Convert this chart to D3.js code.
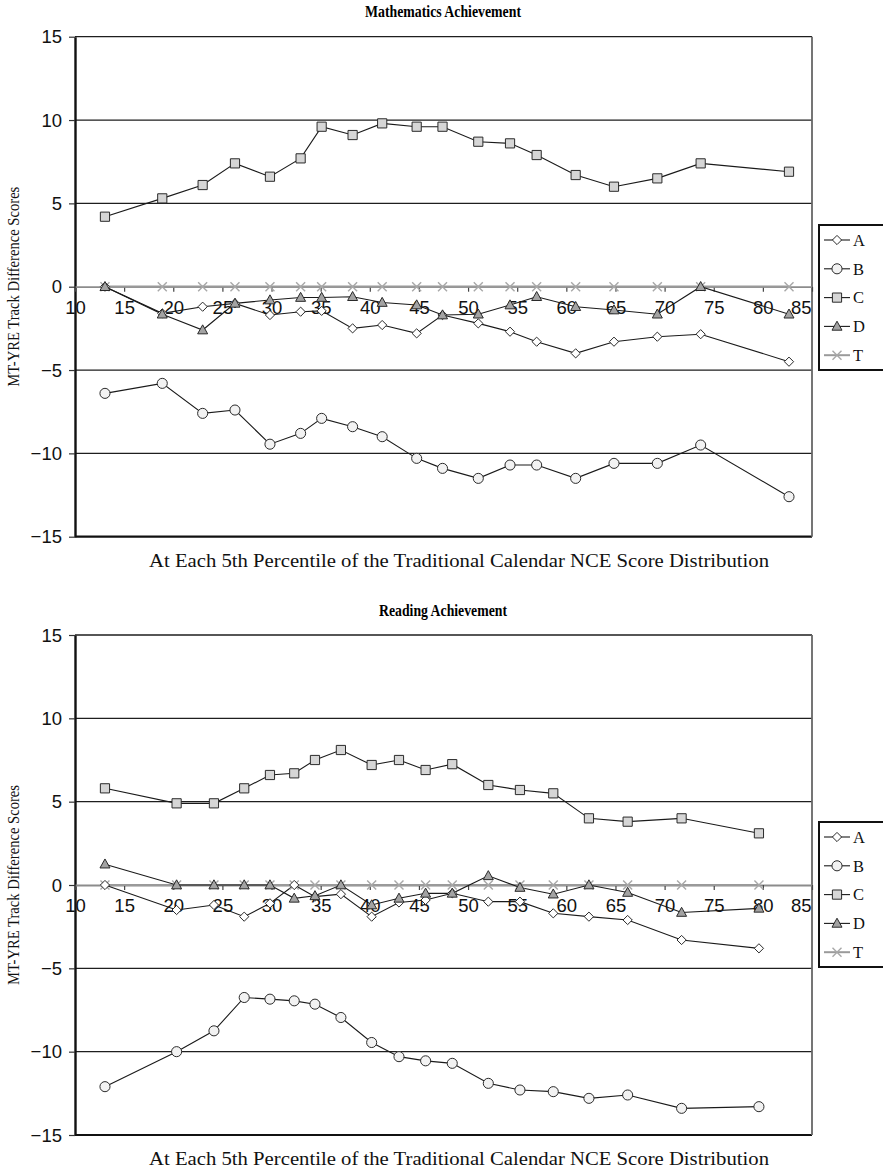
<!DOCTYPE html>
<html>
<head>
<meta charset="utf-8">
<script src="https://cdn.jsdelivr.net/npm/d3@7"></script>
<style>
  html, body { margin: 0; padding: 0; background: #fff; }
  svg { display: block; }
</style>
</head>
<body>
<svg id="chart" width="883" height="1172"></svg>
<script>
// ---------- DATA ----------
const seriesNames = ["A", "B", "C", "D", "T"];
const xTicks = [10, 15, 20, 25, 30, 35, 40, 45, 50, 55, 60, 65, 70, 75, 80, 85];
const yTicks = [-15, -10, -5, 0, 5, 10, 15];

const mathX = [13.05, 18.88, 22.99, 26.28, 29.84, 32.96, 35.1, 38.25, 41.26, 44.77, 47.4, 51.04, 54.27, 56.98, 60.95, 64.85, 69.26, 73.67, 82.66];
const mathA = [0, -1.6, -1.2, -1.0, -1.7, -1.5, -1.45, -2.5, -2.3, -2.8, -1.7, -2.2, -2.7, -3.3, -4.0, -3.3, -3.0, -2.85, -4.5];
const mathB = [-6.4, -5.8, -7.6, -7.4, -9.45, -8.8, -7.9, -8.4, -9.0, -10.3, -10.9, -11.5, -10.7, -10.7, -11.5, -10.6, -10.6, -9.5, -12.6];
const mathC = [4.2, 5.3, 6.1, 7.4, 6.6, 7.7, 9.6, 9.1, 9.8, 9.6, 9.6, 8.7, 8.6, 7.9, 6.7, 6.0, 6.5, 7.4, 6.9];
const mathD = [0, -1.65, -2.6, -1.0, -0.8, -0.65, -0.65, -0.6, -0.95, -1.1, -1.7, -1.65, -1.1, -0.6, -1.2, -1.4, -1.65, 0, -1.65];
const mathT = [0, 0, 0, 0, 0, 0, 0, 0, 0, 0, 0, 0, 0, 0, 0, 0, 0, 0, 0];

const readX = [13.05, 20.34, 24.14, 27.22, 29.84, 32.31, 34.42, 37.06, 40.19, 42.97, 45.68, 48.39, 52.06, 55.28, 58.67, 62.3, 66.24, 71.73, 79.6];
const readA = [0, -1.5, -1.2, -1.9, -1.1, 0, -0.7, -0.55, -1.9, -1.05, -0.9, -0.5, -1.0, -1.0, -1.7, -1.9, -2.1, -3.3, -3.8];
const readB = [-12.1, -10.0, -8.75, -6.75, -6.85, -6.95, -7.15, -7.95, -9.45, -10.3, -10.55, -10.7, -11.9, -12.3, -12.4, -12.8, -12.6, -13.4, -13.3];
const readC = [5.8, 4.9, 4.9, 5.8, 6.6, 6.7, 7.5, 8.1, 7.2, 7.5, 6.9, 7.25, 6.0, 5.7, 5.5, 4.0, 3.8, 4.0, 3.1];
const readD = [1.25, 0, 0, 0, 0, -0.8, -0.65, 0, -1.2, -0.8, -0.5, -0.5, 0.55, -0.15, -0.55, 0, -0.45, -1.65, -1.4];
const readT = [0, 0, 0, 0, 0, 0, 0, 0, 0, 0, 0, 0, 0, 0, 0, 0, 0, 0, 0];

const titles = ["Mathematics Achievement", "Reading Achievement"];
const yTitle = "MT-YRE Track Difference Scores";
const xTitle = "At Each 5th Percentile of the Traditional Calendar NCE Score Distribution";

// ---------- DRAWING ----------
const svg = d3.select("#chart");
const SANS = "'Liberation Sans', Arial, sans-serif";
const SERIF = "'Liberation Serif', 'Times New Roman', serif";

const styles = {
  A: { shape: "diamond", fill: "#ffffff" },
  B: { shape: "circle", fill: "#f2f2f2" },
  C: { shape: "square", fill: "#d6d6d6" },
  D: { shape: "triangle", fill: "#a3a3a3" },
  T: { shape: "x", fill: "none" }
};

function markerPath(shape) {
  switch (shape) {
    case "diamond": return "M0,-4.6L4.6,0L0,4.6L-4.6,0Z";
    case "circle": return d3.symbol(d3.symbolCircle, 80)();
    case "square": return "M-4.6,-4.6H4.6V4.6H-4.6Z";
    case "triangle": return "M0,-5.2L5,3.8H-5Z";
    case "x": return "M-4.5,-4.5L4.5,4.5M-4.5,4.5L4.5,-4.5";
  }
}

function drawMarker(sel, name) {
  const st = styles[name];
  sel.append("path")
    .attr("d", markerPath(st.shape))
    .attr("fill", st.fill)
    .attr("stroke", name === "T" ? "#a8a8a8" : "#2a2a2a")
    .attr("stroke-width", name === "T" ? 1.4 : 1);
}

function drawChart(cfg) {
  const g = svg.append("g");
  const x = d3.scaleLinear().domain([10, 85]).range([75, 812]);
  const y = d3.scaleLinear().domain([-15, 15]).range([cfg.top + 500, cfg.top]);

  // title (condensed bold serif)
  g.append("text")
    .attr("x", 443).attr("y", cfg.top - 19.5)
    .attr("text-anchor", "middle")
    .attr("font-family", SERIF).attr("font-weight", "bold").attr("font-size", 16.5)
    .attr("textLength", cfg.titleLen).attr("lengthAdjust", "spacingAndGlyphs")
    .text(cfg.title);

  // horizontal gridlines (incl. top)
  g.selectAll(".grid").data([15, 10, 5, -5, -10]).enter().append("line")
    .attr("x1", x(10)).attr("x2", x(85))
    .attr("y1", d => y(d)).attr("y2", d => y(d))
    .attr("stroke", "#1e1e1e").attr("stroke-width", 1.3);

  // bottom border
  g.append("line")
    .attr("x1", x(10)).attr("x2", x(85)).attr("y1", y(-15)).attr("y2", y(-15))
    .attr("stroke", "#111").attr("stroke-width", 2.2);
  // right border
  g.append("line")
    .attr("x1", x(85)).attr("x2", x(85)).attr("y1", y(15)).attr("y2", y(-15))
    .attr("stroke", "#666").attr("stroke-width", 1.8);

  // y axis
  const yAxis = d3.axisLeft(y).tickValues(yTicks).tickSize(6).tickSizeOuter(0)
    .tickFormat(d => d < 0 ? "\u2212" + Math.abs(d) : String(d));
  const ya = g.append("g").attr("transform", `translate(${x(10)},0)`).call(yAxis);
  ya.select(".domain").attr("stroke", "#111").attr("stroke-width", 2.4);
  ya.selectAll(".tick line").attr("stroke", "#333").attr("stroke-width", 1.2);
  ya.selectAll(".tick text").attr("font-family", SANS).attr("font-size", 18.5)
    .attr("fill", "#111").attr("x", -13).attr("dy", "0.34em");

  // x axis at zero
  const xAxis = d3.axisBottom(x).tickValues(xTicks).tickSize(5).tickSizeOuter(0);
  const xa = g.append("g").attr("transform", `translate(0,${y(0)})`).call(xAxis);
  xa.select(".domain").attr("stroke", "#8c8c8c").attr("stroke-width", 1.8);
  xa.selectAll(".tick line").attr("stroke", "#444").attr("stroke-width", 1.2);
  xa.selectAll(".tick text").attr("font-family", SANS).attr("font-size", 18.5)
    .attr("fill", "#111").attr("y", 14).attr("dy", "0.71em")
    .filter(d => d === 85).attr("text-anchor", "end").attr("x", -1);

  // series
  const line = d3.line().x(d => x(d[0])).y(d => y(d[1]));
  const order = ["T", "A", "B", "C", "D"];
  order.forEach(name => {
    const pts = cfg.xs.map((xv, i) => [xv, cfg.series[name][i]]);
    g.append("path").datum(pts)
      .attr("d", line).attr("fill", "none")
      .attr("stroke", name === "T" ? "#9a9a9a" : "#1a1a1a")
      .attr("stroke-width", name === "T" ? 2.2 : 1.1);
  });
  order.forEach(name => {
    const pts = cfg.xs.map((xv, i) => [xv, cfg.series[name][i]]);
    g.selectAll(null).data(pts).enter().append("g")
      .attr("transform", d => `translate(${x(d[0])},${y(d[1])})`)
      .each(function () { drawMarker(d3.select(this), name); });
  });

  // y axis title
  g.append("text")
    .attr("transform", `translate(19,${y(0)}) rotate(-90)`)
    .attr("text-anchor", "middle")
    .attr("font-family", SERIF).attr("font-size", 16.5).attr("fill", "#111")
    .attr("textLength", 200).attr("lengthAdjust", "spacingAndGlyphs")
    .text(yTitle);

  // x axis title
  g.append("text")
    .attr("x", 459).attr("y", cfg.top + 530)
    .attr("text-anchor", "middle")
    .attr("font-family", SERIF).attr("font-size", 19).attr("fill", "#111")
    .attr("textLength", 620).attr("lengthAdjust", "spacingAndGlyphs")
    .text(xTitle);

  // legend
  const lg = g.append("g");
  lg.append("rect")
    .attr("x", 819).attr("y", cfg.legTop).attr("width", 80).attr("height", 145)
    .attr("fill", "#fff").attr("stroke", "#111").attr("stroke-width", 2);
  seriesNames.forEach((name, i) => {
    const cy = cfg.legTop + 15 + i * 28.8;
    const e = lg.append("g").attr("transform", `translate(0,${cy})`);
    e.append("line").attr("x1", 824).attr("x2", 850).attr("y1", 0).attr("y2", 0)
      .attr("stroke", name === "T" ? "#9a9a9a" : "#1a1a1a")
      .attr("stroke-width", name === "T" ? 2 : 1.1);
    drawMarker(e.append("g").attr("transform", "translate(837,0)"), name);
    e.append("text").attr("x", 853).attr("y", 0).attr("dy", "0.35em")
      .attr("font-family", SERIF).attr("font-size", 16.5).attr("fill", "#111")
      .text(name);
  });
}

drawChart({
  title: titles[0], titleLen: 156, top: 36.7, legTop: 225, xs: mathX,
  series: { A: mathA, B: mathB, C: mathC, D: mathD, T: mathT }
});
drawChart({
  title: titles[1], titleLen: 128, top: 635, legTop: 822, xs: readX,
  series: { A: readA, B: readB, C: readC, D: readD, T: readT }
});
</script>
</body>
</html>
